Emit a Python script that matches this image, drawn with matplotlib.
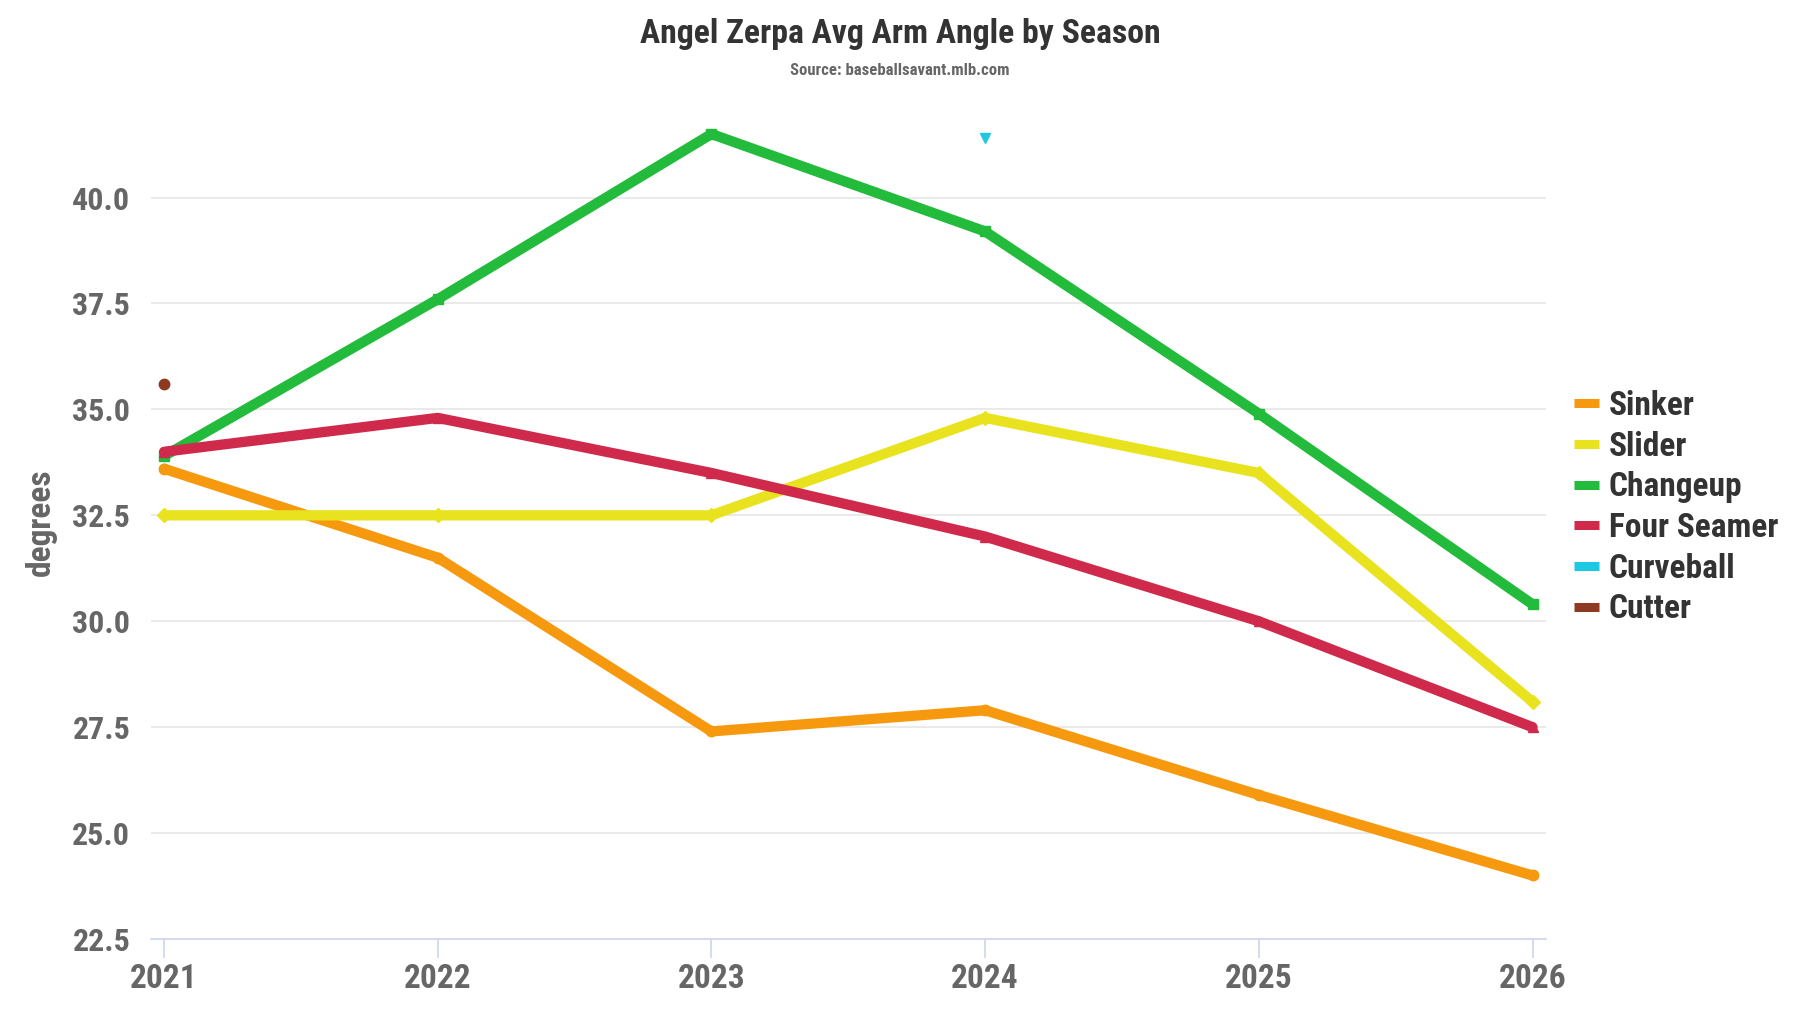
import matplotlib.pyplot as plt
from matplotlib.lines import Line2D

plt.rcParams['font.family'] = ['Roboto Condensed', 'DejaVu Sans']
plt.rcParams['font.weight'] = 'bold'
plt.rcParams['axes.labelweight'] = 'bold'

# ---- data
seasons = [2021, 2022, 2023, 2024, 2025, 2026]
sinker = [33.6, 31.5, 27.4, 27.9, 25.9, 24.0]
slider = [32.5, 32.5, 32.5, 34.8, 33.5, 28.1]
changeup = [33.9, 37.6, 41.5, 39.2, 34.9, 30.4]
four_seamer = [34.0, 34.8, 33.5, 32.0, 30.0, 27.5]
curveball_x = [2024]
curveball = [41.4]
cutter_x = [2021]
cutter = [35.6]

yticks = [22.5, 25.0, 27.5, 30.0, 32.5, 35.0, 37.5, 40.0]

fig = plt.figure(figsize=(18, 10.13), dpi=100)
ax = fig.add_axes([0.084, 0.073, 0.775, 0.824])

series = [
    ('Sinker', seasons, sinker, '#f7990f', 'o'),
    ('Slider', seasons, slider, '#e8e31e', 'D'),
    ('Changeup', seasons, changeup, '#22bb3b', 's'),
    ('Four Seamer', seasons, four_seamer, '#cf2a4b', '^'),
    ('Curveball', curveball_x, curveball, '#1cc8e3', 'v'),
    ('Cutter', cutter_x, cutter, '#8e3a22', 'o'),
]

for name, xs, ys, col, mk in series:
    ax.plot(xs, ys, color=col, lw=7.4, solid_capstyle='round',
            solid_joinstyle='round', marker=mk, markersize=7.5, zorder=3)

ax.set_xlim(2020.953, 2026.05)
ax.set_ylim(22.5, 42.2)
ax.set_yticks(yticks)
ax.set_yticklabels(['%.1f' % v for v in yticks])
ax.set_xticks(seasons)
ax.set_xticklabels([str(s) for s in seasons])
ax.grid(axis='y', color='#e6e6e6', lw=1.2)
ax.set_axisbelow(True)
for s in ['top', 'right', 'left']:
    ax.spines[s].set_visible(False)
ax.spines['bottom'].set_color('#ccd6eb')
ax.spines['bottom'].set_linewidth(1.2)
ax.tick_params(axis='y', length=0, labelsize=23, labelcolor='#666666', pad=15)
ax.tick_params(axis='x', length=14, color='#ccd6eb', width=1.2,
               labelsize=24, labelcolor='#666666', pad=3)
ax.set_ylabel('degrees', fontsize=24, color='#666666', labelpad=11)

fig.text(0.5, 0.966, 'Angel Zerpa Avg Arm Angle by Season', ha='center', va='center',
         fontsize=24.3, color='#333333')
fig.text(0.5, 0.930, 'Source: baseballsavant.mlb.com', ha='center', va='center',
         fontsize=12.1, color='#666666')

handles = [Line2D([], [], color=c, lw=6.5, solid_capstyle='butt') for _, _, _, c, _ in series]
leg = fig.legend(handles, [s[0] for s in series], loc='center left',
                 bbox_to_anchor=(0.858, 0.499), frameon=False, fontsize=24,
                 handlelength=0.75, handletextpad=0.28, labelspacing=0.26,
                 labelcolor='#333333')

fig.savefig('out.png', dpi=100)
